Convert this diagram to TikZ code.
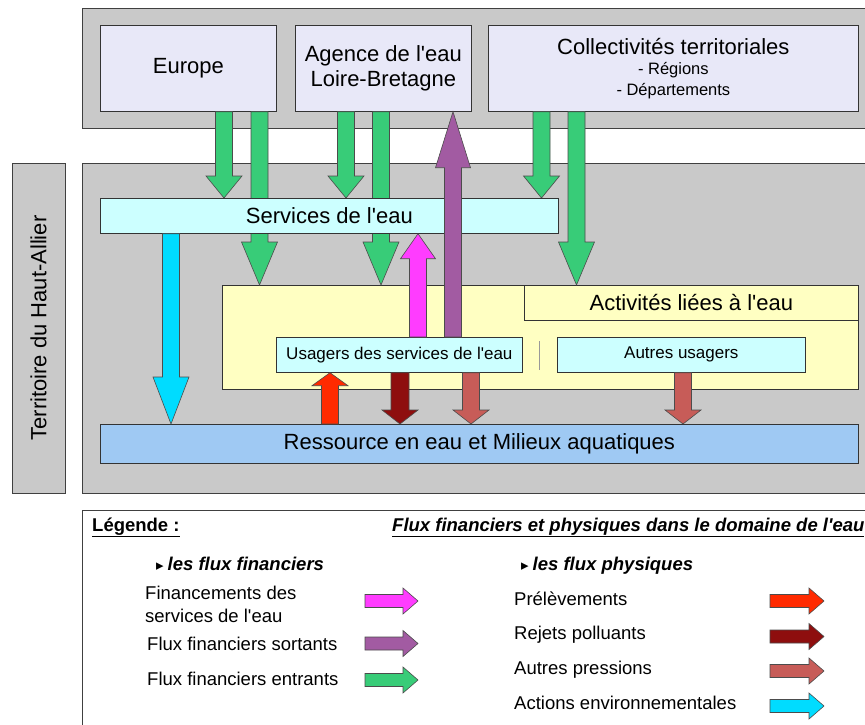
\documentclass[tikz,border=0pt]{standalone}
\usepackage{fontspec}
\setmainfont{Liberation Sans}
\newfontfamily\symfont{DejaVu Sans}
\usetikzlibrary{calc}
\newcommand\ap{\textquotesingle}
\definecolor{grayc}{HTML}{C9C9C9}
\definecolor{lavc}{HTML}{E8E8F8}
\definecolor{svcc}{HTML}{CCFFFF}
\definecolor{yelc}{HTML}{FFFFC2}
\definecolor{resc}{HTML}{9FC9F3}
\definecolor{greenc}{HTML}{38CC78}
\definecolor{purplec}{HTML}{A25BA2}
\definecolor{pinkc}{HTML}{FF3CFF}
\definecolor{cyanc}{HTML}{00DCFF}
\definecolor{redc}{HTML}{FF2A00}
\definecolor{darkredc}{HTML}{8E0E0E}
\definecolor{salmonc}{HTML}{C75C58}
\tikzset{
  graybox/.style={draw=black!75, fill=grayc, line width=0.9pt, inner sep=0pt, anchor=north west},
  box/.style={draw=black!80, line width=0.7pt, inner sep=0pt, align=center, anchor=north west},
  barrow/.style={draw=black!70, line width=0.6pt, line join=miter},
  big/.style={font=\fontsize{22}{25}\selectfont},
  mid/.style={font=\fontsize{17}{20}\selectfont},
  leg/.style={font=\fontsize{18.5}{23}\selectfont, inner sep=0pt, anchor=base west, align=left},
  sepline/.style={draw=black!40, line width=0.8pt}
}
\newcommand\blockarrow[6]{%
  \filldraw[barrow, fill=#1] let \p1=(#2), \p2=(#3),
    \n1={veclen(\x2-\x1,\y2-\y1)},
    \n2={(\x2-\x1)/\n1}, \n3={(\y2-\y1)/\n1},
    \n4={\n1-#6}
  in ({\x1-#4*\n3},{\y1+#4*\n2})
  -- ({\x1+\n4*\n2-#4*\n3},{\y1+\n4*\n3+#4*\n2})
  -- ({\x1+\n4*\n2-#5*\n3},{\y1+\n4*\n3+#5*\n2})
  -- (\p2)
  -- ({\x1+\n4*\n2+#5*\n3},{\y1+\n4*\n3-#5*\n2})
  -- ({\x1+\n4*\n2+#4*\n3},{\y1+\n4*\n3-#4*\n2})
  -- ({\x1+#4*\n3},{\y1-#4*\n2}) -- cycle;}
\begin{document}
\begin{tikzpicture}[x=1pt,y=-1pt]
\useasboundingbox (0,0) rectangle (865,724);
\fill[white] (0,0) rectangle (865,724);
% zones
\node[graybox, minimum width=788, minimum height=120] (topzone) at (82,8) {};
\node[graybox, anchor=center, rotate=90, minimum width=330, minimum height=53, big] (terr) at (38.5,328) {Territoire du Haut-Allier};
\node[graybox, minimum width=788, minimum height=330] (mainzone) at (82,163) {};
\node[draw=black!75, line width=0.9pt, fill=white, minimum width=788, minimum height=220, anchor=north west] (legzone) at (82,510) {};
% top boxes
\node[box, fill=lavc, minimum width=176, minimum height=86, big] (europe) at (100,25) {Europe};
\node[box, fill=lavc, minimum width=176, minimum height=86, big] (agence) at (295,25) {Agence de l\ap eau\\Loire-Bretagne};
\node[box, fill=lavc, minimum width=370, minimum height=86, font=\fontsize{16.5}{20.5}\selectfont] (collect) at (488,25)
  {{\fontsize{22}{25}\selectfont Collectivités territoriales}\\- Régions\\- Départements};
% lower boxes
\node[box, fill=yelc, minimum width=636, minimum height=104] (yellow) at (222,285) {};
\node[box, fill=yelc, minimum width=334, minimum height=35, big] (activ) at (524,285) {Activités liées à l\ap eau};
\node[box, fill=svcc, minimum width=246, minimum height=35, mid] (usagers) at (276,337) {Usagers des services de l\ap eau};
\node[box, fill=svcc, minimum width=248, minimum height=35, mid] (autres) at (557,337) {Autres usagers};
\node[box, fill=resc, minimum width=758, minimum height=39, big] (ressource) at (100,424) {Ressource en eau et Milieux aquatiques};
\draw[sepline] ($(usagers.north east)!0.5!(autres.north west)+(0,4)$) -- ($(usagers.south east)!0.5!(autres.south west)+(0,-3)$);
% green arrows
\blockarrow{greenc}{224,0 |- europe.south}{224,0 |- 0,198}{8.5}{18}{22}
\blockarrow{greenc}{259.5,0 |- europe.south}{259.5,0 |- yellow.north}{8.5}{18}{43}
\blockarrow{greenc}{346,0 |- agence.south}{346,0 |- 0,198}{8.5}{18}{22}
\blockarrow{greenc}{381,0 |- agence.south}{381,0 |- yellow.north}{8.5}{18}{43}
\blockarrow{greenc}{541.5,0 |- collect.south}{541.5,0 |- 0,198}{8.5}{18}{22}
\blockarrow{greenc}{576.5,0 |- collect.south}{576.5,0 |- yellow.north}{8.5}{18}{43}
% services
\node[box, fill=svcc, minimum width=458, minimum height=35, big] (services) at (100,198) {Services de l\ap eau};
% other arrows
\blockarrow{purplec}{453,0 |- usagers.north}{453,0 |- agence.south}{8.5}{17.5}{56}
\blockarrow{pinkc}{418,0 |- usagers.north}{418,0 |- services.south}{8.5}{17.5}{25}
\blockarrow{cyanc}{171,0 |- services.south}{171,0 |- ressource.north}{8.5}{18}{47}
\blockarrow{redc}{330,0 |- ressource.north}{330,0 |- usagers.south}{8.5}{18}{13}
\blockarrow{darkredc}{400,0 |- usagers.south}{400,0 |- ressource.north}{9}{18}{14}
\blockarrow{salmonc}{471,0 |- usagers.south}{471,0 |- ressource.north}{8.5}{18}{14}
\blockarrow{salmonc}{683,0 |- autres.south}{683,0 |- ressource.north}{8.5}{18}{14}
% legend
\node[leg, font=\fontsize{18.5}{23}\selectfont\bfseries] (legtitle) at (92,531) {\underline{Légende :}};
\node[leg, font=\fontsize{18.5}{23}\selectfont\bfseries\itshape] (legflux) at (392,531) {\underline{Flux financiers et physiques dans le domaine de l\ap eau}};
\node[leg, font=\fontsize{18.5}{23}\selectfont\bfseries\itshape] (fin) at (156,570) {{\symfont\upshape\fontsize{15}{16}\selectfont ▸}\hspace{4pt}les flux financiers};
\node[leg, font=\fontsize{18.5}{23}\selectfont\bfseries\itshape] (phy) at (521,570) {{\symfont\upshape\fontsize{15}{16}\selectfont ▸}\hspace{4pt}les flux physiques};
\node[leg] (l1) at (145,622) {Financements des\\services de l\ap eau};
\node[leg] (l2) at (147,650) {Flux financiers sortants};
\node[leg] (l3) at (147,685) {Flux financiers entrants};
\node[leg] (r1) at (514,605) {Prélèvements};
\node[leg] (r2) at (514,639) {Rejets polluants};
\node[leg] (r3) at (514,674) {Autres pressions};
\node[leg] (r4) at (514,709) {Actions environnementales};
\coordinate (la1) at (365,601); \coordinate (lb1) at (418,601);
\coordinate (la2) at (365,643.5); \coordinate (lb2) at (418,643.5);
\coordinate (la3) at (365,680); \coordinate (lb3) at (418,680);
\coordinate (ra1) at (770,601); \coordinate (rb1) at (824,601);
\coordinate (ra2) at (770,636.5); \coordinate (rb2) at (824,636.5);
\coordinate (ra3) at (770,671); \coordinate (rb3) at (824,671);
\coordinate (ra4) at (770,706); \coordinate (rb4) at (824,706);
\blockarrow{pinkc}{la1}{lb1}{6.5}{13}{15}
\blockarrow{purplec}{la2}{lb2}{6.5}{13}{15}
\blockarrow{greenc}{la3}{lb3}{6.5}{13}{15}
\blockarrow{redc}{ra1}{rb1}{6.5}{13}{15}
\blockarrow{darkredc}{ra2}{rb2}{6.5}{13}{15}
\blockarrow{salmonc}{ra3}{rb3}{6.5}{13}{15}
\blockarrow{cyanc}{ra4}{rb4}{6.5}{13}{15}
\end{tikzpicture}
\end{document}
